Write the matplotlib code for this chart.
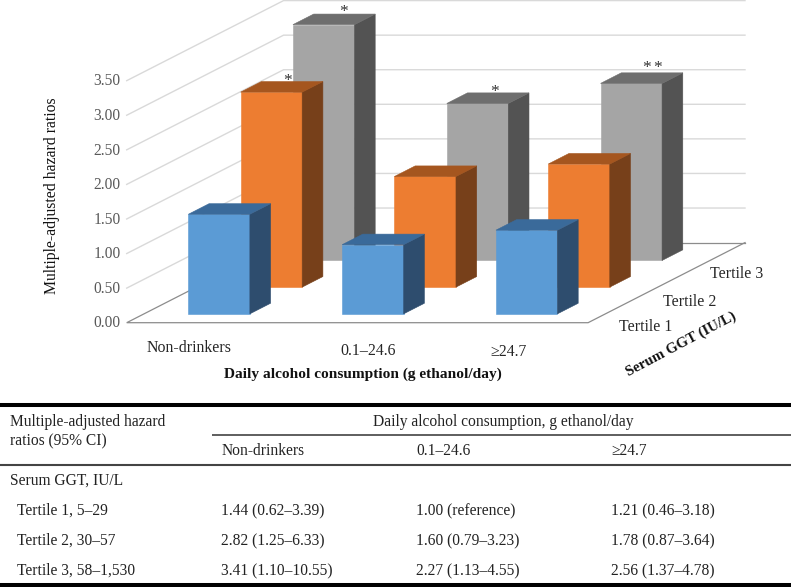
import matplotlib
matplotlib.use("Agg")
import matplotlib.pyplot as plt
from matplotlib.patches import Polygon

plt.rcParams['font.family'] = ['Liberation Serif', 'DejaVu Serif']

# ---------- data ----------
categories = ["Non-drinkers", "0.1–24.6", "≥24.7"]
tertiles = ["Tertile 1", "Tertile 2", "Tertile 3"]
tertile1 = [1.44, 1.00, 1.21]
tertile2 = [2.82, 1.60, 1.78]
tertile3 = [3.41, 2.27, 2.56]
y_ticks = [0.0, 0.5, 1.0, 1.5, 2.0, 2.5, 3.0, 3.5]
series = [tertile1, tertile2, tertile3]
stars = [(0, 1, "*", -5, -5), (0, 2, "*", -1, -6.5), (1, 2, "*", -4, -5),
         (2, 2, "*", -5, -9), (2, 2, "*", 5.5, -9)]

ci_t1 = ["0.62–3.39", "reference", "0.46–3.18"]
ci_t2 = ["1.25–6.33", "0.79–3.23", "0.87–3.64"]
ci_t3 = ["1.10–10.55", "1.13–4.55", "1.37–4.78"]
row_labels = ["Tertile 1, 5–29", "Tertile 2, 30–57", "Tertile 3, 58–1,530"]
cis = [ci_t1, ci_t2, ci_t3]

# ---------- oblique projection (Excel-style 3-D column chart) ----------
ORIGIN = (126.7, 322.7)
CAT_W = 153.8          # px per category along x
DEPTH = (52.3, -26.7)  # px per tertile slot along depth
V_UNIT = 69.15         # px per unit of hazard ratio


def proj(x, d, v):
    return (ORIGIN[0] + x * CAT_W + d * DEPTH[0],
            ORIGIN[1] + d * DEPTH[1] - v * V_UNIT)


fig = plt.figure(figsize=(7.91, 5.87), dpi=100)
ax = fig.add_axes([0, 0, 1, 1])
ax.set_xlim(0, 791)
ax.set_ylim(587, 0)
ax.axis('off')

GRID = '#d9d9d9'
FLOOR = '#8c8c8c'
nc, nd = len(categories), len(tertiles)

# gridlines on the walls
for t in y_ticks:
    pts = [proj(0, 0, t), proj(0, nd, t), proj(nc, nd, t)]
    if t == 0:
        continue
    ax.plot(*zip(*pts), color=GRID, lw=1.0, zorder=1, solid_joinstyle='miter')

# floor
fl = [proj(0, nd, 0), proj(0, 0, 0), proj(nc, 0, 0), proj(nc, nd, 0)]
ax.plot(*zip(*fl), color=FLOOR, lw=0.9, zorder=1.5, solid_joinstyle='miter')
ax.plot(*zip(proj(0, nd, 0), proj(nc, nd, 0)), color=FLOOR, lw=0.9, zorder=1.5)

# bars, back to front
BAR_W = 0.40
BAR_D = 0.396
styles = [('#5b9bd5', '#2e4d6e', '#3a6a9a'),
          ('#ed7d31', '#77401a', '#a5561f'),
          ('#a5a5a5', '#535353', '#6e6e6e')]
z = 2.0
tops = {}
for d in reversed(range(nd)):
    front, side, top = styles[d]
    for c in range(nc):
        v = series[d][c]
        x0 = c + (1 - BAR_W) / 2 - 0.012
        x1 = x0 + BAR_W
        d0 = d + (1 - BAR_D) / 2 + 0.03
        d1 = d0 + BAR_D
        faces = [
            ([proj(x0, d0, 0), proj(x1, d0, 0), proj(x1, d0, v), proj(x0, d0, v)], front),
            ([proj(x1, d0, 0), proj(x1, d1, 0), proj(x1, d1, v), proj(x1, d0, v)], side),
            ([proj(x0, d0, v), proj(x1, d0, v), proj(x1, d1, v), proj(x0, d1, v)], top),
        ]
        for verts, col in faces:
            ax.add_patch(Polygon(verts, closed=True, facecolor=col, edgecolor=col,
                                 lw=0.4, zorder=z))
        tops[(c, d)] = proj((x0 + x1) / 2, d1, v)
    z += 1

# significance marks
for c, d, s, dx, dy in stars:
    px, py = tops[(c, d)]
    ax.text(px + dx, py + dy + 4, s, fontsize=12.5, color='#333333', ha='center',
            va='center', zorder=10)

# chart text
TICK = '#595959'
for t in y_ticks:
    px, py = proj(0, 0, t)
    ax.text(px - 6, py + 0.7, f"{t:.2f}", fontsize=11.2, color=TICK, ha='right', va='center')

cat_pos = [(188.7, 348.5), (367.7, 351), (509, 352)]
for s, (px, py) in zip(categories, cat_pos):
    ax.text(px, py, s, fontsize=11.4, color='#262626', ha='center', va='center')
ter_pos = [(646, 327), (690, 301.7), (736.7, 274)]
for s, (px, py) in zip(tertiles, ter_pos):
    ax.text(px, py, s, fontsize=11.4, color='#262626', ha='center', va='center')

ax.text(52, 196, "Multiple-adjusted hazard ratios", fontsize=11.3, rotation=90,
        ha='center', va='center', color='#111111')
ax.text(363, 374, "Daily alcohol consumption (g ethanol/day)", fontsize=11.1,
        fontweight='bold', ha='center', va='center', color='#111111')
ax.text(681, 344, "Serum GGT (IU/L)", fontsize=10.7, fontweight='bold', rotation=28,
        rotation_mode='anchor', ha='center', va='center', color='#111111')

# ---------- table ----------
TXT = '#222222'
TS = 11.2
ax.hlines(405.3, 0, 791, color='black', lw=2.9)
ax.hlines(435, 212, 791, color='#333333', lw=1.1)
ax.hlines(465, 0, 791, color='#444444', lw=1.5)
ax.hlines(584.5, 0, 791, color='black', lw=2.9)

ax.text(10, 425.7, "Multiple-adjusted hazard", fontsize=TS, color=TXT, va='baseline')
ax.text(10, 445, "ratios (95% CI)", fontsize=TS, color=TXT, va='baseline')
ax.text(503, 425.7, "Daily alcohol consumption, g ethanol/day", fontsize=TS, color=TXT,
        ha='center', va='baseline')
col_x = [221.3, 416, 611]
for x, s in zip(col_x, categories):
    ax.text(x, 455, s, fontsize=TS, color=TXT, va='baseline')
ax.text(10, 485, "Serum GGT, IU/L", fontsize=TS, color=TXT, va='baseline')
row_y = [515, 545, 575]
for r, yy in enumerate(row_y):
    ax.text(17.3, yy, row_labels[r], fontsize=TS, color=TXT, va='baseline')
    for c, x in enumerate(col_x):
        ax.text(x, yy, f"{series[r][c]:.2f} ({cis[r][c]})", fontsize=TS, color=TXT, va='baseline')

fig.savefig("out.png", dpi=100, facecolor='white')
